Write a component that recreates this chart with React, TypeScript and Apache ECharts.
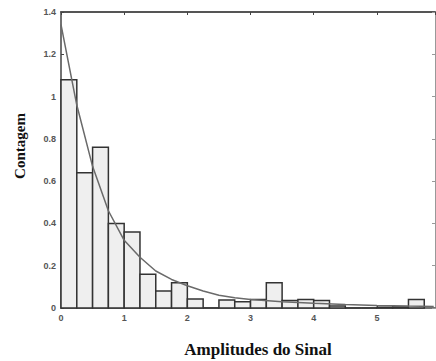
import React, { useEffect, useRef } from "react";
import * as echarts from "echarts";

const binStarts = [0, 0.25, 0.5, 0.75, 1.0, 1.25, 1.5, 1.75, 2.0, 2.25, 2.5, 2.75, 3.0, 3.25, 3.5, 3.75, 4.0, 4.25, 4.5, 4.75, 5.0, 5.25, 5.5];
const binEnds = [0.25, 0.5, 0.75, 1.0, 1.25, 1.5, 1.75, 2.0, 2.25, 2.5, 2.75, 3.0, 3.25, 3.5, 3.75, 4.0, 4.25, 4.5, 4.75, 5.0, 5.25, 5.5, 5.75];
const counts = [1.08, 0.64, 0.76, 0.40, 0.36, 0.16, 0.08, 0.12, 0.043, 0, 0.038, 0.03, 0.04, 0.12, 0.035, 0.04, 0.035, 0.01, 0, 0, 0.004, 0.005, 0.04];

const fitX = [0, 0.25, 0.5, 0.75, 1.0, 1.25, 1.5, 1.75, 2.0, 2.25, 2.5, 2.75, 3.0, 3.5, 4.0, 4.5, 5.0, 5.5, 5.9];
const fitY = [1.34, 0.96, 0.67, 0.46, 0.32, 0.24, 0.175, 0.135, 0.105, 0.08, 0.06, 0.048, 0.04, 0.03, 0.022, 0.016, 0.012, 0.009, 0.007];

const xLabel = "Amplitudes do Sinal";
const yLabel = "Contagem";

export default function App() {
  const ref = useRef<HTMLDivElement>(null);
  useEffect(() => {
    document.body.style.margin = "0";
    const chart = echarts.init(ref.current!, null, { renderer: "svg" });
    const histData = binStarts.map((s, i) => [s, binEnds[i], counts[i]]);
    const fitData = fitX.map((x, i) => [x, fitY[i]]);
    const labelStyle = { color: "#555", fontSize: 9, fontFamily: "Liberation Sans", fontWeight: "bold" as const };
    chart.setOption({
      animation: false,
      backgroundColor: "#fff",
      grid: { left: 61, right: 1, top: 12, bottom: 53 },
      xAxis: [
        {
          type: "value", min: 0, max: 5.92, interval: 1,
          axisLine: { show: true, onZero: false, lineStyle: { color: "#444", width: 1.5 } },
          axisTick: { show: true, inside: true, length: 3, lineStyle: { color: "#444" } },
          axisLabel: { ...labelStyle, margin: 5, showMaxLabel: false },
          splitLine: { show: false },
        },
        {
          type: "value", min: 0, max: 5.92, interval: 1, position: "top",
          axisLine: { show: true, onZero: false, lineStyle: { color: "#555", width: 2 } },
          axisTick: { show: true, inside: true, length: 3, lineStyle: { color: "#444" } },
          axisLabel: { show: false },
          splitLine: { show: false },
        },
      ],
      yAxis: [
        {
          type: "value", min: 0, max: 1.4, interval: 0.2,
          axisLine: { show: true, onZero: false, lineStyle: { color: "#444", width: 1.5 } },
          axisTick: { show: true, inside: true, length: 3, lineStyle: { color: "#444" } },
          axisLabel: { ...labelStyle, margin: 5 },
          splitLine: { show: false },
        },
        {
          type: "value", min: 0, max: 1.4, interval: 0.2, position: "right",
          axisLine: { show: true, onZero: false, lineStyle: { color: "#999", width: 1 } },
          axisTick: { show: true, inside: true, length: 3, lineStyle: { color: "#999" } },
          axisLabel: { show: false },
          splitLine: { show: false },
        },
      ],
      series: [
        {
          type: "custom",
          xAxisIndex: 0,
          yAxisIndex: 0,
          data: histData,
          encode: { x: [0, 1], y: 2 },
          renderItem: (params: any, api: any) => {
            const x0 = api.value(0);
            const x1 = api.value(1);
            const h = api.value(2);
            const p0 = api.coord([x0, h]);
            const p1 = api.coord([x1, 0]);
            return {
              type: "rect",
              shape: { x: p0[0], y: p0[1], width: p1[0] - p0[0], height: p1[1] - p0[1] },
              style: { fill: "#efefef", stroke: "#333", lineWidth: 1.5 },
            };
          },
          z: 2,
        },
        {
          type: "line",
          xAxisIndex: 0,
          yAxisIndex: 0,
          data: fitData,
          symbol: "none",
          smooth: false,
          lineStyle: { color: "#6a6a6a", width: 1.5 },
          z: 3,
        },
      ],
      graphic: [
        {
          type: "text",
          x: 20,
          y: 146,
          rotation: Math.PI / 2,
          style: {
            text: yLabel,
            font: 'bold 15px "Liberation Serif"',
            fill: "#111",
            align: "center",
            verticalAlign: "middle",
          },
        },
        {
          type: "text",
          x: 258,
          y: 349,
          style: {
            text: xLabel,
            font: 'bold 17px "Liberation Serif"',
            fill: "#111",
            align: "center",
            verticalAlign: "middle",
          },
        },
      ],
    });
    return () => chart.dispose();
  }, []);
  return <div ref={ref} style={{ position: "fixed", left: 0, top: 0, width: 436, height: 361 }} />;
}
